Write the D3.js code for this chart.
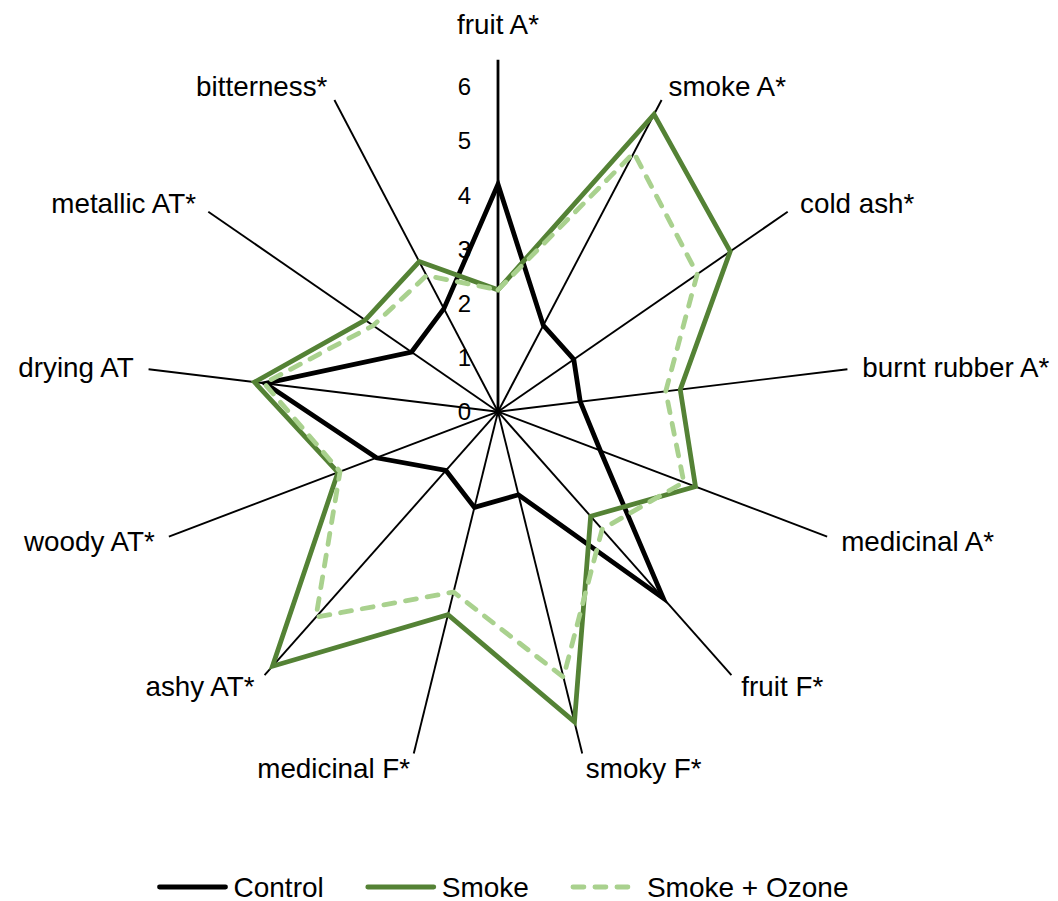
<!DOCTYPE html>
<html>
<head>
<meta charset="utf-8">
<script src="https://cdn.jsdelivr.net/npm/d3@7"></script>
<style>
  html, body { margin: 0; padding: 0; background: #ffffff; }
  svg { display: block; }
  text { font-family: "Liberation Sans", Arial, sans-serif; fill: #000; }
</style>
</head>
<body>
<svg id="chart" width="1058" height="901"></svg>
<script>
// ---- data ----
const categories = ["fruit A*", "smoke A*", "cold ash*", "burnt rubber A*", "medicinal A*", "fruit F*",
  "smoky F*", "medicinal F*", "ashy AT*", "woody AT*", "drying AT", "metallic AT*", "bitterness*"];
const control = [4.2, 1.8, 1.7, 1.53, 2.02, 4.6, 1.58, 1.82, 1.45, 2.4, 4.33, 1.94, 2.15];
const smoke   = [2.25, 6.2, 5.21, 3.39, 3.9, 2.58, 5.9, 3.86, 6.28, 3.16, 4.53, 2.98, 3.13];
const ozone   = [2.25, 5.4, 4.47, 3.12, 3.67, 2.9, 5.05, 3.43, 5.07, 3.12, 4.35, 2.8, 2.84];
const seriesNames = ["Control", "Smoke", "Smoke + Ozone"];
const tickValues = [0, 1, 2, 3, 4, 5, 6];
const axisMax = 6.5;

// ---- layout ----
const svg = d3.select("#chart");
const cx = 498, cy = 411.7, R = 352;
const r = d3.scaleLinear().domain([0, axisMax]).range([0, R]);
const step = 2 * Math.PI / categories.length;
const ang = (i) => i * step;

const g = svg.append("g").attr("transform", `translate(${cx},${cy})`);

// spokes
g.selectAll("line.spoke").data(categories).enter().append("line")
  .attr("class", "spoke")
  .attr("x1", 0).attr("y1", 0)
  .attr("x2", (d, i) => r(axisMax) * Math.sin(ang(i)))
  .attr("y2", (d, i) => -r(axisMax) * Math.cos(ang(i)))
  .attr("stroke", "#000").attr("stroke-width", (d, i) => i === 0 ? 2.8 : 1.9);

// tick labels on the value axis
g.selectAll("text.tick").data(tickValues).enter().append("text")
  .attr("class", "tick")
  .attr("x", -27).attr("y", d => -r(d))
  .attr("text-anchor", "end")
  .attr("dominant-baseline", "central")
  .attr("font-size", 24)
  .text(d => d);

// category labels
const labR = r(axisMax) + 15;
g.selectAll("text.cat").data(categories).enter().append("text")
  .attr("class", "cat")
  .attr("x", (d, i) => labR * Math.sin(ang(i)))
  .attr("y", (d, i) => {
    const s = Math.sin(ang(i));
    const y = -labR * Math.cos(ang(i));
    return Math.abs(s) < 0.05 ? y - 20 : y;
  })
  .attr("text-anchor", (d, i) => {
    const s = Math.sin(ang(i));
    return Math.abs(s) < 0.05 ? "middle" : (s > 0 ? "start" : "end");
  })
  .attr("dominant-baseline", "central")
  .attr("font-size", 27.8)
  .text(d => d);

// series
const series = [
  { name: seriesNames[0], values: control, color: "#000000", dash: null },
  { name: seriesNames[1], values: smoke, color: "#548235", dash: null },
  { name: seriesNames[2], values: ozone, color: "#A9D18E", dash: "11,11" }
];

const radial = d3.lineRadial()
  .angle((d, i) => ang(i))
  .radius(d => r(d))
  .curve(d3.curveLinearClosed);

series.forEach(s => {
  g.append("path")
    .datum(s.values)
    .attr("d", radial)
    .attr("fill", "none")
    .attr("stroke", s.color)
    .attr("stroke-width", 4.8)
    .attr("stroke-linejoin", "miter")
    .attr("stroke-linecap", s.dash ? "round" : "butt")
    .attr("stroke-dasharray", s.dash);
});

// legend
const legendY = 887, lineLen = 70, gapText = 6, gapItem = 42, legendCenter = 503;
const leg = svg.append("g");
const items = series.map(s => {
  const t = leg.append("text").attr("font-size", 28).attr("dominant-baseline", "central").attr("y", legendY).text(s.name);
  return { s, t, w: t.node().getComputedTextLength() };
});
const total = d3.sum(items, d => lineLen + gapText + d.w) + gapItem * (items.length - 1);
let x = legendCenter - total / 2;
items.forEach(it => {
  leg.append("line")
    .attr("x1", x + 2).attr("x2", x + lineLen - 2)
    .attr("y1", legendY).attr("y2", legendY)
    .attr("stroke", it.s.color).attr("stroke-width", 4.8)
    .attr("stroke-linecap", "round")
    .attr("stroke-dasharray", it.s.dash);
  it.t.attr("x", x + lineLen + gapText);
  x += lineLen + gapText + it.w + gapItem;
});
</script>
</body>
</html>
